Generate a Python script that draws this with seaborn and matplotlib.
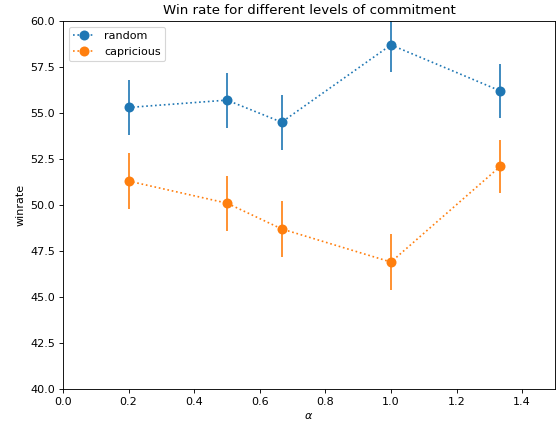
import matplotlib
matplotlib.use("Agg")
import matplotlib.pyplot as plt
import seaborn as sns
import numpy as np

# commitment levels and win rates
alpha = [0.2, 0.5, 2 / 3, 1.0, 4 / 3]
random_rate = [55.3, 55.7, 54.5, 58.7, 56.2]
random_err = [1.5, 1.5, 1.5, 1.45, 1.45]
capricious_rate = [51.3, 50.1, 48.7, 46.9, 52.1]
capricious_err = [1.5, 1.5, 1.5, 1.5, 1.45]
series = ["random", "capricious"]

fig, ax = plt.subplots(figsize=(7.0, 5.3125), dpi=80)
fig.subplots_adjust(left=0.1125, right=0.991, top=0.9506, bottom=0.0847)

colors = sns.color_palette("tab10", 2)
for name, vals, errs, c in zip(series, [random_rate, capricious_rate],
                               [random_err, capricious_err], colors):
    ax.errorbar(alpha, vals, yerr=errs, fmt="none", ecolor=c, elinewidth=1.5)
    sns.lineplot(x=alpha, y=vals, ax=ax, color=c, linestyle=":", marker="o",
                 markersize=9, markeredgecolor=c, markeredgewidth=0,
                 label=name)

ax.set_xlim(0, 1.5)
ax.set_ylim(40, 60)
ax.set_xlabel(r"$\alpha$")
ax.set_ylabel("winrate")
ax.set_title("Win rate for different levels of commitment")
ax.legend(loc="upper left")

plt.savefig("out.png")
